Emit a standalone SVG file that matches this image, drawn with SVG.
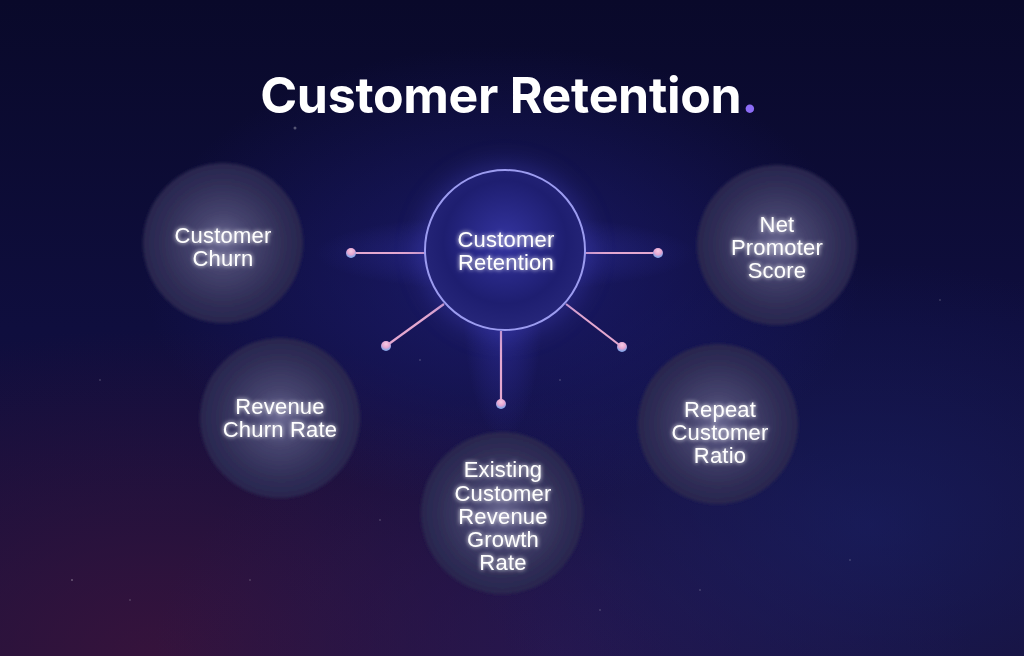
<svg xmlns="http://www.w3.org/2000/svg" width="1024" height="656" viewBox="0 0 1024 656">
<defs>
<linearGradient id="bg" x1="0" y1="0" x2="0" y2="1">
<stop offset="0" stop-color="#09092a"/>
<stop offset="0.5" stop-color="#0f0e3e"/>
<stop offset="1" stop-color="#17113c"/>
</linearGradient>
<radialGradient id="bgRed" cx="0.15" cy="1" r="0.5">
<stop offset="0" stop-color="#40143c" stop-opacity="0.75"/>
<stop offset="1" stop-color="#40143c" stop-opacity="0"/>
</radialGradient>
<radialGradient id="bgPurple" cx="0.55" cy="1" r="0.4">
<stop offset="0" stop-color="#2c1a5a" stop-opacity="0.6"/>
<stop offset="1" stop-color="#2c1a5a" stop-opacity="0"/>
</radialGradient>
<radialGradient id="bgBlue" cx="0.85" cy="0.8" r="0.4">
<stop offset="0" stop-color="#1a2268" stop-opacity="0.6"/>
<stop offset="1" stop-color="#1a2268" stop-opacity="0"/>
</radialGradient>
<radialGradient id="bgGlow" cx="0.49" cy="0.42" r="0.35">
<stop offset="0" stop-color="#24248a" stop-opacity="0.55"/>
<stop offset="1" stop-color="#24248a" stop-opacity="0"/>
</radialGradient>
<radialGradient id="beam" cx="0.5" cy="0.5" r="0.5">
<stop offset="0" stop-color="#3a3ab8" stop-opacity="0.5"/>
<stop offset="1" stop-color="#3a3ab8" stop-opacity="0"/>
</radialGradient>
<radialGradient id="bubble" cx="0.5" cy="0.5" r="0.5">
<stop offset="0" stop-color="#6a6892"/>
<stop offset="0.35" stop-color="#46446e"/>
<stop offset="0.75" stop-color="#302e57"/>
<stop offset="1" stop-color="#28264e"/>
</radialGradient>
<radialGradient id="hub" cx="0.5" cy="0.45" r="0.55">
<stop offset="0" stop-color="#3434a0"/>
<stop offset="0.7" stop-color="#1e1e70"/>
<stop offset="1" stop-color="#26267a"/>
</radialGradient>
<filter id="soft" x="-30%" y="-30%" width="160%" height="160%">
<feGaussianBlur stdDeviation="1.5"/>
</filter>
<filter id="halo" x="-50%" y="-50%" width="200%" height="200%">
<feGaussianBlur stdDeviation="12"/>
</filter>
<filter id="tglow" x="-20%" y="-40%" width="140%" height="180%">
<feGaussianBlur in="SourceGraphic" stdDeviation="2" result="b"/>
<feMerge><feMergeNode in="b"/><feMergeNode in="SourceGraphic"/></feMerge>
</filter>
<radialGradient id="dotg" cx="0.5" cy="0.3" r="0.6">
<stop offset="0" stop-color="#f6cbe6"/>
<stop offset="0.6" stop-color="#e6a6d2"/>
<stop offset="1" stop-color="#8aa6e8"/>
</radialGradient>
</defs>
<style>
.lbl{font-family:"Liberation Sans",Arial,sans-serif;font-size:22px;fill:#ffffff;text-anchor:middle;letter-spacing:0.2px}
.title{font-family:Inter,"Liberation Sans",sans-serif;font-weight:700;font-size:50px;fill:#ffffff;text-anchor:middle;letter-spacing:-0.3px}
.conn{stroke:#e4a8d0;stroke-width:2.2;fill:none}
.dot{fill:url(#dotg)}
.star{fill:#ffffff;opacity:0.3}
</style>

<rect width="1024" height="656" fill="url(#bg)"/>
<rect width="1024" height="656" fill="url(#bgRed)"/>
<rect width="1024" height="656" fill="url(#bgPurple)"/>
<rect width="1024" height="656" fill="url(#bgBlue)"/>
<rect width="1024" height="656" fill="url(#bgGlow)"/>

<g id="stars">
<circle class="star" cx="295" cy="128" r="1.5"/>
<circle class="star" cx="72" cy="580" r="1"/>
<circle class="star" cx="130" cy="600" r="0.8"/>
<circle class="star" cx="380" cy="520" r="0.8"/>
<circle class="star" cx="600" cy="610" r="0.8"/>
<circle class="star" cx="850" cy="560" r="0.8"/>
<circle class="star" cx="940" cy="300" r="0.8"/>
<circle class="star" cx="100" cy="380" r="0.8"/>
<circle class="star" cx="420" cy="360" r="0.8"/>
<circle class="star" cx="560" cy="380" r="0.8"/>
<circle class="star" cx="444" cy="287" r="1.5"/>
<circle class="star" cx="250" cy="580" r="0.8"/>
<circle class="star" cx="700" cy="590" r="0.8"/>
</g>

<text class="title" x="509" y="113">Customer Retention<tspan fill="#8c6cf6">.</tspan></text>

<g id="connectors">
<ellipse cx="505" cy="253" rx="190" ry="38" fill="url(#beam)"/>
<ellipse cx="503" cy="300" rx="40" ry="140" fill="url(#beam)"/>
<line class="conn" x1="351" y1="253" x2="425" y2="253"/>
<line class="conn" x1="585" y1="253" x2="658" y2="253"/>
<line class="conn" x1="386" y1="346" x2="444" y2="304"/>
<line class="conn" x1="622" y1="347" x2="566" y2="304"/>
<line class="conn" x1="501" y1="404" x2="501" y2="331"/>
<circle class="dot" cx="351" cy="253" r="5"/>
<circle class="dot" cx="658" cy="253" r="5"/>
<circle class="dot" cx="386" cy="346" r="5"/>
<circle class="dot" cx="622" cy="347" r="5"/>
<circle class="dot" cx="501" cy="404" r="5"/>
</g>

<g id="hub-node">
<circle cx="505" cy="250" r="86" fill="#4848c8" opacity="0.35" filter="url(#halo)"/>
<circle cx="505" cy="250" r="80" fill="url(#hub)" stroke="#9c9cf0" stroke-width="2"/>
<text class="lbl" x="506" y="247" filter="url(#tglow)">Customer</text>
<text class="lbl" x="506" y="270" filter="url(#tglow)">Retention</text>
</g>

<g id="node-customer-churn">
<circle cx="223" cy="243" r="80" fill="url(#bubble)" filter="url(#soft)"/>
<text class="lbl" x="223" y="243" filter="url(#tglow)">Customer</text>
<text class="lbl" x="223" y="266" filter="url(#tglow)">Churn</text>
</g>

<g id="node-net-promoter">
<circle cx="777" cy="245" r="80" fill="url(#bubble)" filter="url(#soft)"/>
<text class="lbl" x="777" y="232" filter="url(#tglow)">Net</text>
<text class="lbl" x="777" y="255" filter="url(#tglow)">Promoter</text>
<text class="lbl" x="777" y="278" filter="url(#tglow)">Score</text>
</g>

<g id="node-revenue-churn">
<circle cx="280" cy="418" r="80" fill="url(#bubble)" filter="url(#soft)"/>
<text class="lbl" x="280" y="414" filter="url(#tglow)">Revenue</text>
<text class="lbl" x="280" y="437" filter="url(#tglow)">Churn Rate</text>
</g>

<g id="node-repeat-customer">
<circle cx="718" cy="424" r="80" fill="url(#bubble)" filter="url(#soft)"/>
<text class="lbl" x="720" y="417" filter="url(#tglow)">Repeat</text>
<text class="lbl" x="720" y="440" filter="url(#tglow)">Customer</text>
<text class="lbl" x="720" y="463" filter="url(#tglow)">Ratio</text>
</g>

<g id="node-existing-growth">
<circle cx="502" cy="513" r="81" fill="url(#bubble)" filter="url(#soft)"/>
<text class="lbl" x="503" y="477" filter="url(#tglow)">Existing</text>
<text class="lbl" x="503" y="501" filter="url(#tglow)">Customer</text>
<text class="lbl" x="503" y="524" filter="url(#tglow)">Revenue</text>
<text class="lbl" x="503" y="547" filter="url(#tglow)">Growth</text>
<text class="lbl" x="503" y="570" filter="url(#tglow)">Rate</text>
</g>
</svg>
